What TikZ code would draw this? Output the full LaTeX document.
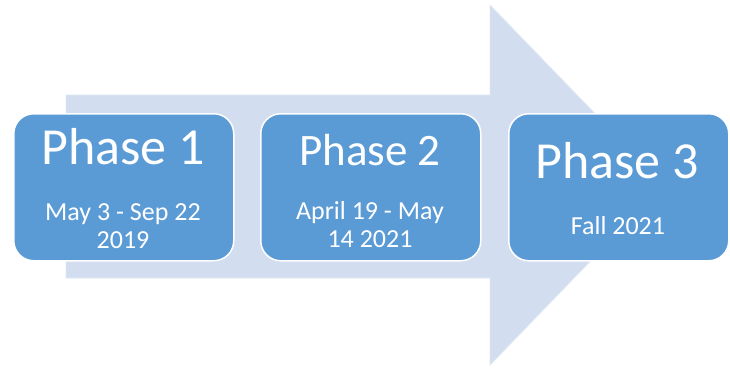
\documentclass[tikz,border=0pt]{standalone}
\usepackage{fontspec}
\setmainfont{Carlito}
\begin{document}
\begin{tikzpicture}[x=1pt,y=-1pt,
  phasebox/.style={draw=white,line width=1.5pt,fill=boxblue,rounded corners=20pt,minimum width=220pt,minimum height=147pt,anchor=north west,inner sep=0pt},
  titletext/.style={text=white,inner sep=0pt,anchor=center},
  subtext/.style={text=white,inner sep=0pt,anchor=center,align=center,font=\fontsize{26}{28}\selectfont}]
\definecolor{boxblue}{HTML}{5B9BD5}
\definecolor{arrowblue}{HTML}{D2DEEF}
\useasboundingbox (0,0) rectangle (730,370);
\fill[arrowblue,draw=arrowblue!70!white,line width=0.8pt] (66,95) -- (490,95) -- (490,5) -- (664,185) -- (490,365) -- (490,278) -- (66,278) -- cycle;
\node[phasebox] (b1) at (13,113) {};
\node[phasebox] (b2) at (260,113) {};
\node[phasebox] (b3) at (508,113) {};
\node[titletext,font=\fontsize{52}{52}\selectfont] (t1) at (123,147) {Phase 1};
\node[titletext,font=\fontsize{45}{45}\selectfont] (t2) at (370,150) {Phase 2};
\node[titletext,font=\fontsize{52}{52}\selectfont] (t3) at (617,161) {Phase 3};
\node[subtext] (s1) at (123,226) {May 3 - Sep 22\\2019};
\node[subtext] (s2) at (370,225) {April 19 - May\\14 2021};
\node[subtext] (s3) at (618,226) {Fall 2021};
\end{tikzpicture}
\end{document}
